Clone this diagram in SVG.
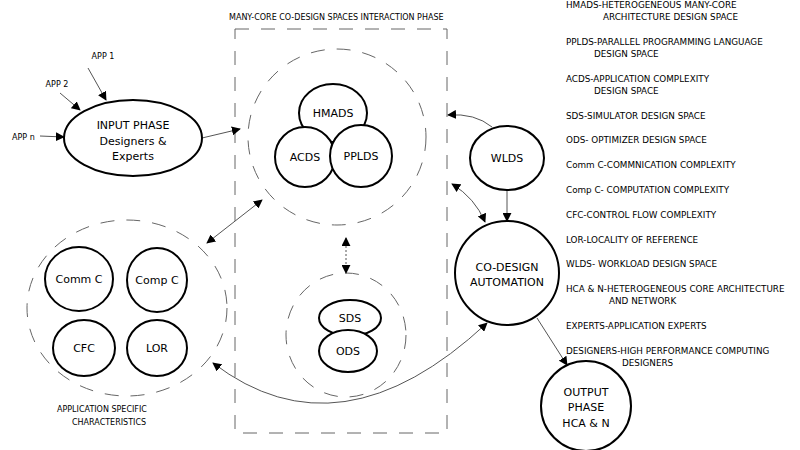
<svg xmlns="http://www.w3.org/2000/svg" width="800" height="450" viewBox="0 0 800 450">
<defs>
<marker id="ah" viewBox="0 0 10 10" refX="9" refY="5" markerWidth="9" markerHeight="9" orient="auto-start-reverse" markerUnits="userSpaceOnUse"><path d="M0,0 L10,5 L0,10 z" fill="#000"/></marker>
</defs>
<style>
text{font-family:"DejaVu Sans",Verdana,sans-serif;fill:#000}
.n{fill:#fff;stroke:#000;stroke-width:2}
.d{fill:none;stroke:#666;stroke-width:1;stroke-dasharray:14 12}
.c{fill:none;stroke:#555;stroke-width:1}
.l{font-size:8.8px}
.t{font-size:11px;text-anchor:middle}
.s{font-size:8px}
</style>
<rect width="800" height="450" fill="#fff"/>
<text class="s" x="229" y="20">MANY-CORE CO-DESIGN SPACES INTERACTION PHASE</text>
<rect x="235" y="29" width="212" height="404" class="d" stroke-dasharray="18 14"/>
<ellipse cx="337" cy="137" rx="89" ry="88" class="d"/>
<ellipse cx="127" cy="308" rx="100" ry="88" class="d"/>
<ellipse cx="346" cy="335" rx="60" ry="62" class="d"/>
<text class="s" x="57" y="412">APPLICATION SPECIFIC</text>
<text class="s" x="72" y="425">CHARACTERISTICS</text>
<g id="connectors">
<line x1="88" y1="68" x2="106" y2="100" class="c" marker-end="url(#ah)"/>
<line x1="60" y1="93" x2="80" y2="110" class="c" marker-end="url(#ah)"/>
<line x1="40" y1="136" x2="64" y2="137" class="c" marker-end="url(#ah)"/>
<line x1="202" y1="138" x2="240" y2="129" class="c" marker-end="url(#ah)"/>
<line x1="207" y1="243" x2="262" y2="200" class="c" marker-start="url(#ah)" marker-end="url(#ah)"/>
<line x1="346" y1="238" x2="346" y2="273" class="c" stroke-dasharray="2 2" marker-start="url(#ah)" marker-end="url(#ah)"/>
<path d="M213,363 Q340,460 487,323" class="c" marker-start="url(#ah)" marker-end="url(#ah)"/>
<path d="M492,127 Q475,113 448,115" class="c" marker-end="url(#ah)"/>
<path d="M452,184 Q475,198 485,222" class="c" marker-start="url(#ah)" marker-end="url(#ah)"/>
<line x1="507" y1="190" x2="507" y2="221" class="c" marker-end="url(#ah)"/>
<line x1="537" y1="318" x2="567" y2="365" class="c" marker-end="url(#ah)"/>
</g>
<text class="s" x="103" y="59" text-anchor="middle">APP 1</text>
<text class="s" x="57" y="87" text-anchor="middle">APP 2</text>
<text class="s" x="12" y="140">APP n</text>
<g id="input"><ellipse cx="133" cy="138" rx="69" ry="38" class="n"/>
<text class="t" x="133" y="129">INPUT PHASE</text><text class="t" x="133" y="145">Designers &amp;</text><text class="t" x="133" y="160">Experts</text></g>
<g id="hmads"><ellipse cx="333" cy="113" rx="34" ry="29" class="n"/><text class="t" x="333" y="117">HMADS</text></g>
<g id="acds"><circle cx="305" cy="157" r="30" class="n"/><text class="t" x="305" y="161">ACDS</text></g>
<g id="pplds"><circle cx="361" cy="156" r="31" class="n"/><text class="t" x="361" y="160">PPLDS</text></g>
<g id="commc"><ellipse cx="79" cy="279" rx="34" ry="32" class="n"/><text class="t" x="79" y="283">Comm C</text></g>
<g id="compc"><ellipse cx="157" cy="280" rx="30" ry="32" class="n"/><text class="t" x="157" y="284">Comp C</text></g>
<g id="cfc"><ellipse cx="84" cy="348" rx="31" ry="28" class="n"/><text class="t" x="84" y="352">CFC</text></g>
<g id="lor"><ellipse cx="157" cy="348" rx="30" ry="28" class="n"/><text class="t" x="157" y="352">LOR</text></g>
<g id="sds"><ellipse cx="350" cy="318" rx="31" ry="18" class="n"/><text class="t" x="350" y="322">SDS</text></g>
<g id="ods"><ellipse cx="348" cy="351" rx="29" ry="21" class="n"/><text class="t" x="348" y="355">ODS</text></g>
<g id="wlds"><ellipse cx="507" cy="158" rx="37" ry="32" class="n"/><text class="t" x="507" y="162">WLDS</text></g>
<g id="codesign"><circle cx="507" cy="273" r="52" class="n"/><text class="t" x="507" y="271">CO-DESIGN</text><text class="t" x="507" y="286">AUTOMATION</text></g>
<g id="output"><circle cx="586" cy="406" r="45" class="n"/><text class="t" x="586" y="396">OUTPUT</text><text class="t" x="586" y="411">PHASE</text><text class="t" x="586" y="427">HCA &amp; N</text></g>
<g id="legend" class="l">
<text x="566" y="8">HMADS-HETEROGENEOUS MANY-CORE</text>
<text x="603" y="20">ARCHITECTURE DESIGN SPACE</text>
<text x="566" y="45">PPLDS-PARALLEL PROGRAMMING LANGUAGE</text>
<text x="594" y="57">DESIGN SPACE</text>
<text x="566" y="82">ACDS-APPLICATION COMPLEXITY</text>
<text x="594" y="94">DESIGN SPACE</text>
<text x="566" y="119">SDS-SIMULATOR DESIGN SPACE</text>
<text x="566" y="143">ODS- OPTIMIZER DESIGN SPACE</text>
<text x="566" y="168">Comm C-COMMNICATION COMPLEXITY</text>
<text x="566" y="193">Comp C- COMPUTATION COMPLEXITY</text>
<text x="566" y="218">CFC-CONTROL FLOW COMPLEXITY</text>
<text x="566" y="243">LOR-LOCALITY OF REFERENCE</text>
<text x="566" y="267">WLDS- WORKLOAD DESIGN SPACE</text>
<text x="566" y="292">HCA &amp; N-HETEROGENEOUS CORE ARCHITECTURE</text>
<text x="609" y="304">AND NETWORK</text>
<text x="566" y="329">EXPERTS-APPLICATION EXPERTS</text>
<text x="566" y="354">DESIGNERS-HIGH PERFORMANCE COMPUTING</text>
<text x="622" y="366">DESIGNERS</text>
</g>
</svg>
